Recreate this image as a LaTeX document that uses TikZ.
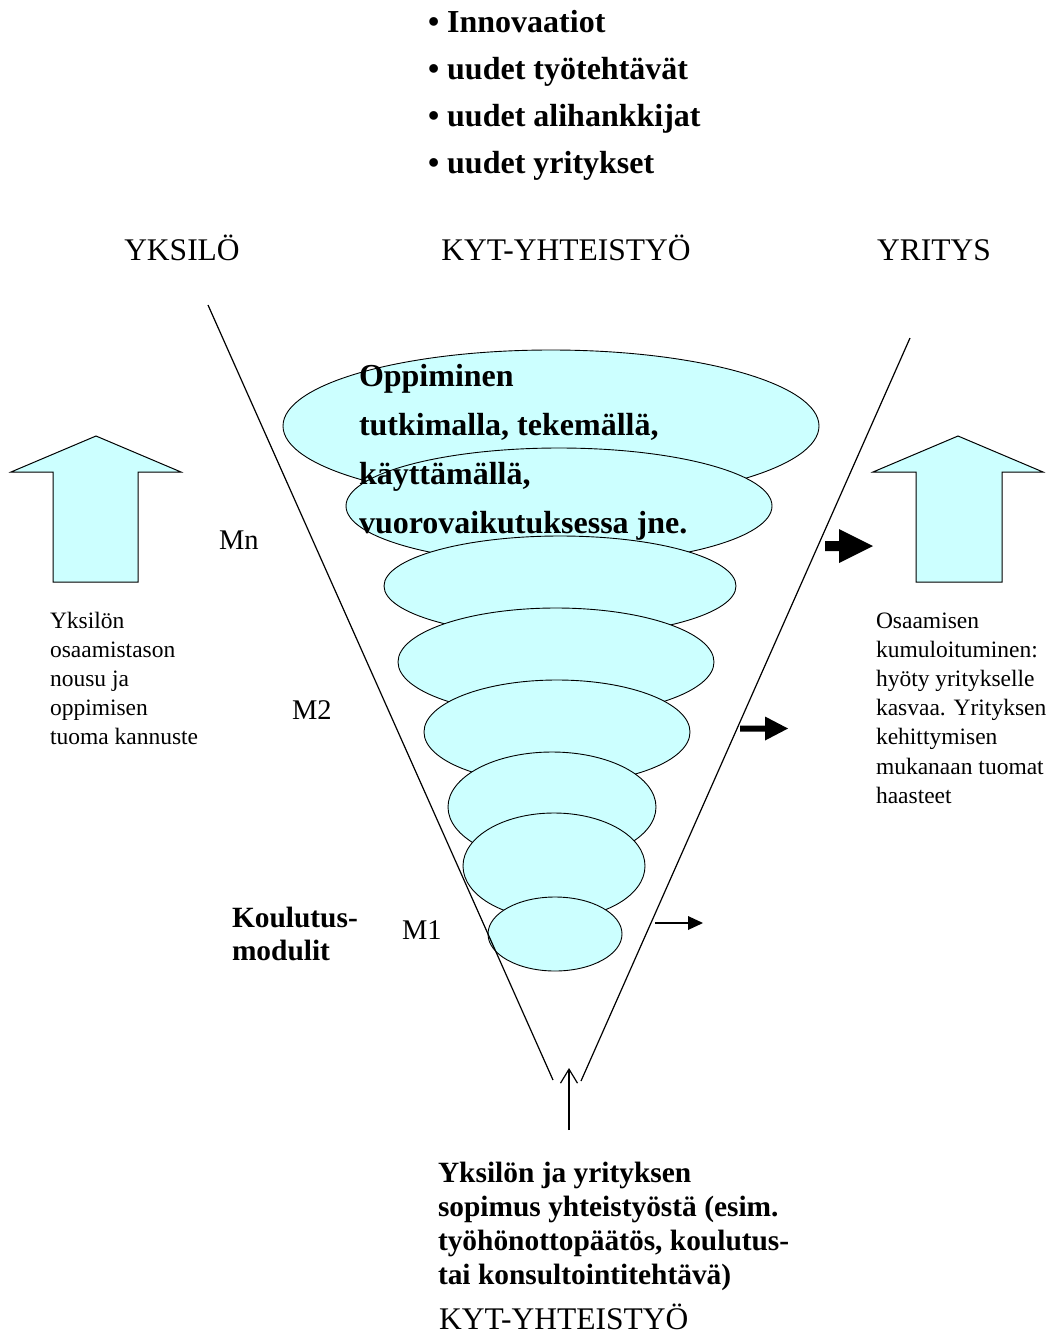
\documentclass[tikz,border=0pt]{standalone}
\usepackage{fontspec}
\setmainfont{Liberation Serif}
\usetikzlibrary{shapes.geometric,arrows.meta}
\definecolor{lcyan}{RGB}{204,255,255}
\begin{document}
\begin{tikzpicture}[x=1pt,y=-1pt,
  txt/.style={inner sep=0pt,outer sep=0pt,anchor=base west},
  bigb/.style={txt,font=\fontsize{32}{38}\selectfont\bfseries},
  midb/.style={txt,font=\fontsize{29.4}{35}\selectfont\bfseries},
  head/.style={inner sep=0pt,anchor=base,font=\fontsize{31.5}{36}\selectfont},
  mlab/.style={txt,font=\fontsize{28.5}{34}\selectfont},
  small/.style={txt,font=\fontsize{23.5}{29}\selectfont},
  layer/.style={ellipse,draw,fill=lcyan,inner sep=0pt,line width=0.9pt},
  vline/.style={line width=1.2pt},
  blockarrow/.style={draw,line width=1pt,fill=lcyan,line join=miter}]
\useasboundingbox (0,0) rectangle (1053,1336);

% bullet list
\node[bigb] (b1) at (428,32) {• Innovaatiot};
\node[bigb] (b2) at (428,79) {• uudet työtehtävät};
\node[bigb] (b3) at (428,126) {• uudet alihankkijat};
\node[bigb] (b4) at (428,173) {• uudet yritykset};

% headings
\node[head] (hy) at (182,260) {YKSILÖ};
\node[head] (hk) at (566,260) {KYT-YHTEISTYÖ};
\node[head] (hr) at (934,260) {YRITYS};

% stacked layers
\node[layer,minimum width=536pt,minimum height=152pt] (e1) at (551,426) {};
\node[layer,minimum width=426pt,minimum height=116pt] (e2) at (559,506) {};
\node[layer,minimum width=352pt,minimum height=100pt] (e3) at (560,586) {};
\node[layer,minimum width=316pt,minimum height=108pt] (e4) at (556,662) {};
\node[layer,minimum width=266pt,minimum height=104pt] (e5) at (557,732) {};
\node[layer,minimum width=208pt,minimum height=110pt] (e6) at (552,807) {};
\node[layer,minimum width=182pt,minimum height=106pt] (e7) at (554,866) {};
\node[layer,minimum width=134pt,minimum height=74pt] (e8) at (555,934) {};

% funnel lines
\coordinate (vlt) at (208,305);
\coordinate (vlb) at (553,1080);
\coordinate (vrt) at (910,338);
\coordinate (vrb) at (581,1081);
\draw[vline] (vlt) -- (vlb);
\draw[vline] (vrt) -- (vrb);

% text inside layers
\node[bigb] (t1) at (359,386) {Oppiminen};
\node[bigb] (t2) at (359,435) {tutkimalla, tekemällä,};
\node[bigb] (t3) at (359,484) {käyttämällä,};
\node[bigb] (t4) at (359,533) {vuorovaikutuksessa jne.};

% level labels
\node[mlab] (mn) at (219,549) {Mn};
\node[mlab] (m2) at (292,719) {M2};
\node[mlab] (m1) at (402,939) {M1};
\node[midb] (k1) at (232,927) {Koulutus-};
\node[midb] (k2) at (232,960) {modulit};

% block up arrows
\draw[blockarrow] (53,582) -- (53,472) -- (11,472) -- (96,436) -- (181,472) -- (138,472) -- (138,582) -- cycle;
\draw[blockarrow] (916,582) -- (916,472) -- (873,472) -- (958,436) -- (1043,472) -- (1002,472) -- (1002,582) -- cycle;

% black arrows
\fill (825,541) -- (839,541) -- (839,529) -- (873,546) -- (839,563) -- (839,551) -- (825,551) -- cycle;
\fill (740,725.5) -- (765,725.5) -- (765,716.5) -- (788,728.5) -- (765,740.5) -- (765,731.5) -- (740,731.5) -- cycle;
\coordinate (sa1) at (655,923);
\coordinate (sa2) at (689,923);
\draw[line width=1.5pt] (sa1) -- (sa2);
\fill (688,916) -- (703,923) -- (688,930) -- cycle;

% left text
\node[small] (l1) at (50,628) {Yksilön};
\node[small] (l2) at (50,657) {osaamistason};
\node[small] (l3) at (50,686) {nousu ja};
\node[small] (l4) at (50,715) {oppimisen};
\node[small] (l5) at (50,744) {tuoma kannuste};

% right text
\node[small] (r1) at (876,628) {Osaamisen};
\node[small] (r2) at (876,657) {kumuloituminen:};
\node[small] (r3) at (876,686) {hyöty yritykselle};
\node[small] (r4) at (876,715) {kasvaa. Yrityksen};
\node[small] (r5) at (876,744) {kehittymisen};
\node[small] (r6) at (876,774) {mukanaan tuomat};
\node[small] (r7) at (876,803) {haasteet};

% bottom arrow
\coordinate (ua1) at (569,1130);
\coordinate (ua2) at (569,1068);
\draw[line width=1.2pt,-{Straight Barb[length=14pt,width=17pt]}] (ua1) -- (ua2);

% bottom text
\node[midb] (s1) at (438,1182) {Yksilön ja yrityksen};
\node[midb] (s2) at (438,1216) {sopimus yhteistyöstä (esim.};
\node[midb] (s3) at (438,1250) {työhönottopäätös, koulutus-};
\node[midb] (s4) at (438,1284) {tai konsultointitehtävä)};
\node[head,anchor=base west] (hk2) at (439,1329) {KYT-YHTEISTYÖ};
\end{tikzpicture}
\end{document}
